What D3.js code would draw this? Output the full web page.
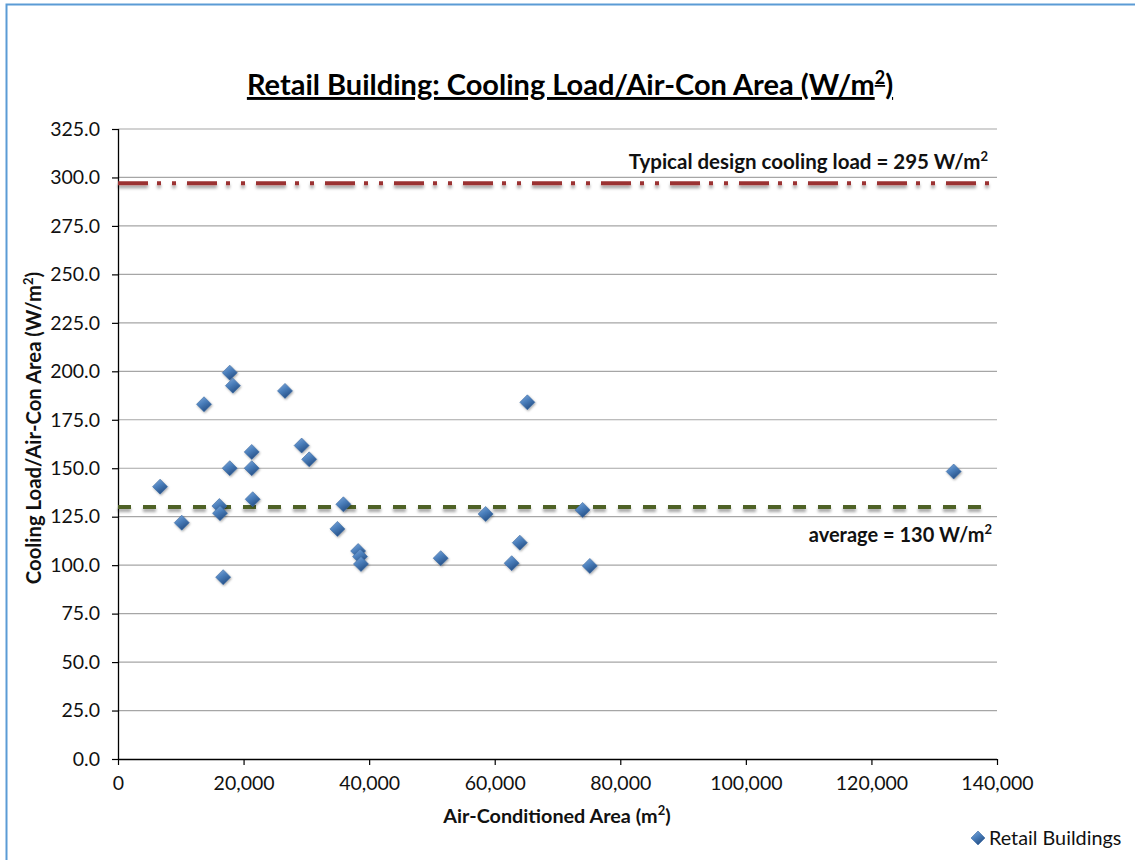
<!DOCTYPE html>
<html>
<head>
<meta charset="utf-8">
<script src="https://cdn.jsdelivr.net/npm/d3@7"></script>
<style>
  html, body { margin: 0; padding: 0; background: #fff; }
  svg { display: block; font-family: Lato, "Open Sans", sans-serif; }
</style>
</head>
<body>
<div id="area"></div>
<script>
// air-conditioned area (m2) and cooling load per area (W/m2)
let area = [17800, 18300, 13700, 26600, 29250, 30450, 21300, 17800, 21300, 6700,
            21450, 16150, 16250, 10150, 35900, 34950, 38250, 38550, 38700, 16750,
            65200, 58550, 74000, 64000, 51400, 62700, 75150, 133100]
let load = [199.3, 192.6, 183.0, 189.9, 161.7, 154.6, 158.4, 150.0, 150.0, 140.5,
            134.0, 130.5, 126.8, 121.9, 131.4, 118.7, 107.3, 104.4, 100.6, 93.8,
            184.0, 126.4, 128.5, 111.6, 103.6, 101.0, 99.6, 148.3]

let yTicks = d3.range(0, 325.1, 25)
let xTicks = d3.range(0, 140001, 20000)

let design_load = 297   // the red line sits a bit above the 295 in its label
let average_load = 130

let width = 1135
let height = 860
let margin = {left: 118, right: 138, top: 129, bottom: 101}

let svg = d3.select('#area').append('svg')
  .attr('width', width).attr('height', height)

let defs = svg.append('defs')
// line shadow, in user space since a flat line has no bounding box height
let shadow = defs.append('filter').attr('id', 'lineShadow')
  .attr('filterUnits', 'userSpaceOnUse')
  .attr('x', 0).attr('y', 0).attr('width', width).attr('height', height)
shadow.append('feDropShadow').attr('dx', 0).attr('dy', 3).attr('stdDeviation', 1.6)
  .attr('flood-color', '#000').attr('flood-opacity', 0.35)

let markShadow = defs.append('filter').attr('id', 'markShadow')
  .attr('x', '-50%').attr('y', '-50%').attr('width', '200%').attr('height', '200%')
markShadow.append('feDropShadow').attr('dx', 0.8).attr('dy', 1.2).attr('stdDeviation', 0.9)
  .attr('flood-color', '#000').attr('flood-opacity', 0.35)

let grad = defs.append('linearGradient').attr('id', 'diamondFill')
  .attr('x1', 0).attr('y1', 0).attr('x2', 0.6).attr('y2', 1)
grad.append('stop').attr('offset', '0%').attr('stop-color', '#86aedd')
grad.append('stop').attr('offset', '50%').attr('stop-color', '#4a7ebb')
grad.append('stop').attr('offset', '100%').attr('stop-color', '#254f85')

// outer frame (only top and left edges show inside the picture)
svg.append('path')
  .attr('d', 'M6.5,' + height + 'V4.5H' + width)
  .attr('fill', 'none').attr('stroke', '#5b9bd5').attr('stroke-width', 2)

let x = d3.scaleLinear().domain([0, 140000]).range([margin.left, width - margin.right])
let y = d3.scaleLinear().domain([0, 325]).range([height - margin.bottom, margin.top])

// gridlines
svg.append('g').selectAll('line').data(yTicks.filter(d => d > 0)).join('line')
  .attr('x1', x(0)).attr('x2', x(140000))
  .attr('y1', d => y(d)).attr('y2', d => y(d))
  .attr('stroke', '#a6a6a6').attr('stroke-width', 1.2)

let yAxis = svg.append('g')
  .attr('transform', 'translate(' + margin.left + ',0)')
  .call(d3.axisLeft(y).tickValues(yTicks).tickFormat(d3.format('.1f')).tickSize(6).tickPadding(12))
let xAxis = svg.append('g')
  .attr('transform', 'translate(0,' + y(0) + ')')
  .call(d3.axisBottom(x).tickValues(xTicks).tickFormat(d3.format(',')).tickSize(6).tickPadding(11))

svg.selectAll('.domain').attr('stroke', '#000').attr('stroke-width', 1.3)
svg.selectAll('.tick line').attr('stroke', '#000').attr('stroke-width', 1.2)
svg.selectAll('.tick text').attr('font-family', 'Lato, sans-serif')
  .attr('font-size', '19.5px').attr('fill', '#111')
yAxis.select('.domain').attr('d', 'M0.5,' + y(325) + 'V' + y(0))
xAxis.select('.domain').attr('d', 'M' + x(0) + ',0.5H' + x(140000))

// reference lines
svg.append('line')
  .attr('x1', x(0)).attr('x2', x(140000))
  .attr('y1', y(design_load)).attr('y2', y(design_load))
  .attr('stroke', '#9b3131').attr('stroke-width', 4)
  .attr('stroke-dasharray', '30,9,4,11,4,11')
  .attr('filter', 'url(#lineShadow)')

svg.append('line')
  .attr('x1', x(0)).attr('x2', x(140000) - 4)
  .attr('y1', y(average_load)).attr('y2', y(average_load))
  .attr('stroke', '#4f6228').attr('stroke-width', 4)
  .attr('stroke-dasharray', '13,12')
  .attr('filter', 'url(#lineShadow)')

// points
let diamond = 'M0,-7.5L7.5,0L0,7.5L-7.5,0Z'
svg.append('g').selectAll('path').data(area).join('path')
  .attr('d', diamond)
  .attr('transform', (d, i) => 'translate(' + x(d) + ',' + y(load[i]) + ')')
  .attr('fill', 'url(#diamondFill)')
  .attr('stroke', '#3b6aa3').attr('stroke-width', 0.6)
  .attr('filter', 'url(#markShadow)')

// texts
let title = svg.append('text')
  .attr('x', 570).attr('y', 95)
  .attr('text-anchor', 'middle')
  .attr('font-size', '29px').attr('font-weight', 'bold').attr('fill', '#000')
  .attr('text-decoration', 'underline')
title.append('tspan').text('Retail Building: Cooling Load/Air-Con Area (W/m')
title.append('tspan').text('2').attr('font-size', '18px').attr('dy', -11)
title.append('tspan').text(')').attr('dy', 11)

let ann1 = svg.append('text')
  .attr('x', 988).attr('y', 168.5).attr('text-anchor', 'end')
  .attr('font-size', '20.5px').attr('font-weight', 'bold').attr('fill', '#111')
ann1.append('tspan').text('Typical design cooling load = 295 W/m')
ann1.append('tspan').text('2').attr('font-size', '13px').attr('dy', -8)

let ann2 = svg.append('text')
  .attr('x', 992).attr('y', 541.5).attr('text-anchor', 'end')
  .attr('font-size', '20px').attr('font-weight', 'bold').attr('fill', '#111')
ann2.append('tspan').text('average = 130 W/m')
ann2.append('tspan').text('2').attr('font-size', '13px').attr('dy', -8)

let xLabel = svg.append('text')
  .attr('x', 557).attr('y', 823).attr('text-anchor', 'middle')
  .attr('font-size', '19.8px').attr('font-weight', 'bold').attr('fill', '#111')
xLabel.append('tspan').text('Air-Conditioned Area (m')
xLabel.append('tspan').text('2').attr('font-size', '13px').attr('dy', -8)
xLabel.append('tspan').text(')').attr('dy', 8)

let yLabel = svg.append('text')
  .attr('transform', 'translate(41,428) rotate(-90)')
  .attr('text-anchor', 'middle')
  .attr('font-size', '20.3px').attr('font-weight', 'bold').attr('fill', '#111')
yLabel.append('tspan').text('Cooling Load/Air-Con Area (W/m')
yLabel.append('tspan').text('2').attr('font-size', '13px').attr('dy', -8)
yLabel.append('tspan').text(')').attr('dy', 8)

// legend
let legend = svg.append('g').attr('transform', 'translate(978,838)')
legend.append('path').attr('d', 'M0,-7L7,0L0,7L-7,0Z')
  .attr('fill', 'url(#diamondFill)').attr('stroke', '#3b6aa3').attr('stroke-width', 0.6)
legend.append('text').attr('x', 11).attr('y', 7)
  .attr('font-size', '19.8px').attr('fill', '#111').text('Retail Buildings')
</script>
</body>
</html>
